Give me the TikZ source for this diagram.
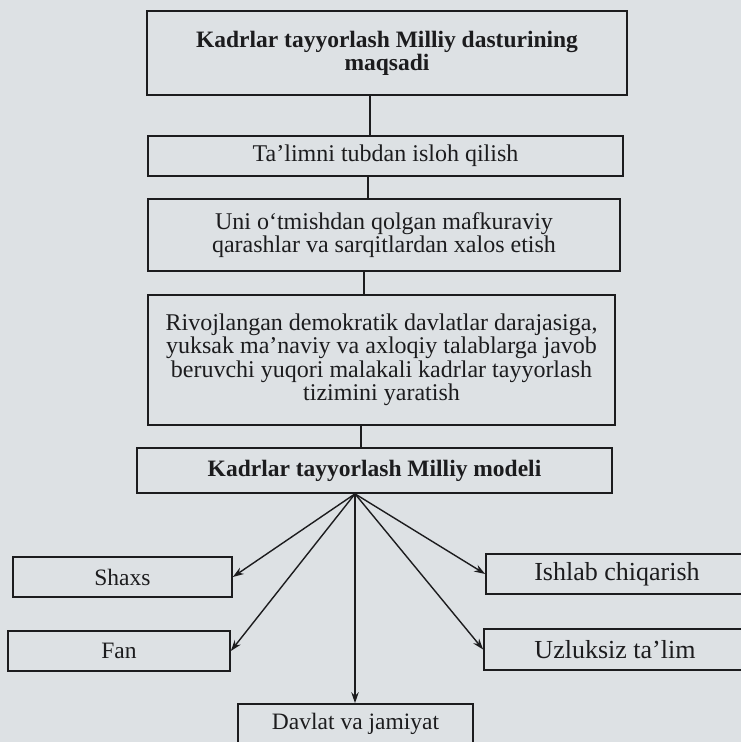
\documentclass[tikz,border=0pt]{standalone}
\usepackage{fontspec}
\setmainfont{Liberation Serif}
\usetikzlibrary{arrows.meta}
\definecolor{bg}{RGB}{221,225,228}
\definecolor{ink}{RGB}{28,28,30}
\begin{document}
\begin{tikzpicture}[x=1pt,y=-1pt,
  box/.style={draw=ink, line width=1.7pt, fill=bg, text=ink, align=center, inner sep=0pt,
              font=\fontsize{24}{23.5}\selectfont},
  hbox/.style={box, font=\bfseries\fontsize{23.5}{23}\selectfont},
  leaf/.style={box, minimum height=40pt, font=\fontsize{23.5}{24}\selectfont},
  rleaf/.style={leaf, font=\fontsize{26}{26}\selectfont},
  link/.style={draw=ink, line width=1.4pt},
  arr/.style={link, -{Stealth[length=11pt,width=7.5pt]}}]
\fill[bg] (0,0) rectangle (741,742);
\useasboundingbox (0,0) rectangle (741,742);
\clip (0,0) rectangle (741,742);

\node[hbox, minimum width=480pt, minimum height=84pt] (b1) at (387,53)
  {Kadrlar tayyorlash Milliy dasturining\\maqsadi};
\node[box, minimum width=475pt, minimum height=40pt] (b2) at (385.5,156)
  {Ta’limni tubdan isloh qilish};
\node[box, minimum width=472pt, minimum height=72pt] (b3) at (384,235)
  {Uni o‘tmishdan qolgan mafkuraviy\\qarashlar va sarqitlardan xalos etish};
\node[box, minimum width=467pt, minimum height=130pt] (b4) at (381.5,360)
  {Rivojlangan demokratik davlatlar darajasiga,\\yuksak ma’naviy va axloqiy talablarga javob\\beruvchi yuqori malakali kadrlar tayyorlash\\tizimini yaratish};
\node[hbox, minimum width=475pt, minimum height=45pt] (b5) at (374.5,470.5)
  {Kadrlar tayyorlash Milliy modeli};

\node[leaf, minimum width=219pt] (shaxs) at (122.5,577) {Shaxs};
\node[leaf, minimum width=222pt] (fan) at (119,651) {Fan};
\node[rleaf, minimum width=262pt] (ishlab) at (617,574) {Ishlab chiqarish};
\node[rleaf, minimum width=262pt, minimum height=41pt] (uzl) at (615,649.5) {Uzluksiz ta’lim};
\node[leaf, minimum width=235pt] (davlat) at (355.5,724) {Davlat va jamiyat};

\draw[link] ([xshift=-17pt]b1.south) -- ([xshift=-17pt]b1.south |- b2.north);
\draw[link] ([xshift=-17.5pt]b2.south) -- ([xshift=-17.5pt]b2.south |- b3.north);
\draw[link] ([xshift=-20pt]b3.south) -- ([xshift=-20pt]b3.south |- b4.north);
\draw[link] ([xshift=-20.5pt]b4.south) -- ([xshift=-20.5pt]b4.south |- b5.north);

\coordinate (o) at ([xshift=-19.5pt]b5.south);
\draw[arr] (o) -- (shaxs.east);
\draw[arr] (o) -- (fan.east);
\draw[arr] (o) -- (ishlab.west);
\draw[arr] (o) -- (uzl.west);
\draw[arr] (o) -- (o |- davlat.north);
\end{tikzpicture}
\end{document}
